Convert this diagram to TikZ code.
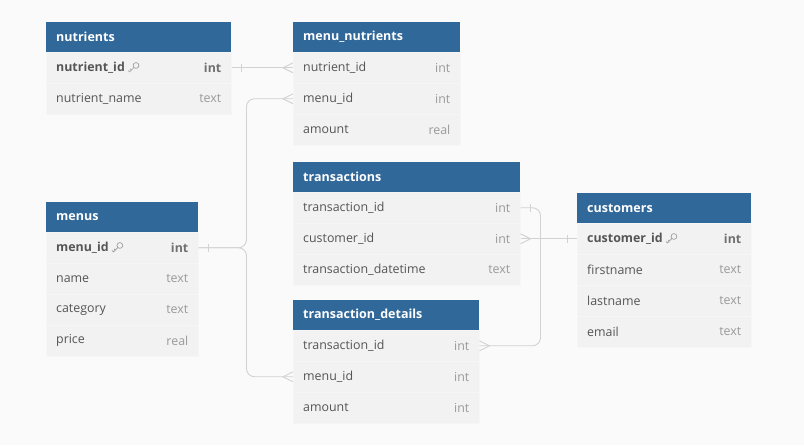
\documentclass[tikz,border=0pt]{standalone}
\usepackage{fontspec}
\setmainfont{Open Sans}
\usetikzlibrary{calc}

\definecolor{pagebg}{HTML}{FAFAFA}
\definecolor{headbg}{HTML}{31689A}
\definecolor{rowbg}{HTML}{F2F2F2}
\definecolor{rowline}{HTML}{F6F6F6}
\definecolor{fieldcol}{HTML}{555555}
\definecolor{typecol}{HTML}{9A9A9A}
\definecolor{keytype}{HTML}{707070}
\definecolor{linkcol}{HTML}{D2D2D2}

% small key glyph shown after primary-key field names
\newcommand{\pkkey}{\tikz[baseline=-3.6pt,x=1pt,y=1pt,line width=0.65pt,draw=typecol]{%
  \draw (2.4,2.4) circle (2.9);
  \draw (0.4,0.4) -- (-4.0,-4.0) -- (-5.4,-2.6);
  \draw (-2.2,-2.2) -- (-3.4,-1.0);}}

\tikzset{
  headbox/.style={fill=headbg, anchor=north west, minimum height=30pt,
    inner xsep=10pt, inner ysep=0pt, text width=#1-20pt, align=left,
    text=white, font=\fontsize{12.5}{14}\selectfont\bfseries},
  rowbox/.style={fill=rowbg, draw=rowline, line width=0.5pt, anchor=north west,
    minimum height=31pt, minimum width=#1, inner sep=0pt},
  fieldtext/.style={anchor=west, xshift=10pt, inner sep=0pt, text=fieldcol,
    font=\fontsize{12.4}{14}\selectfont},
  typetext/.style={anchor=east, xshift=-10pt, inner sep=0pt, text=typecol,
    font=\fontsize{12.4}{14}\selectfont},
  conn/.style={draw=linkcol, line width=0.9pt},
  tickeast/.pic={\draw[conn] (10,-4) -- (10,4);},
  tickwest/.pic={\draw[conn] (-10,-4) -- (-10,4);},
  crowwest/.pic={\draw[conn] (0,-5) -- (-10,0) -- (0,5);},
  croweast/.pic={\draw[conn] (0,-5) -- (10,0) -- (0,5);},
}

% header: name, x, top, width, title
\newcommand{\dbhead}[5]{\node[headbox=#4] (#1) at (#2,#3) {#5};}
% field row: name, x, top, width, field, type
\newcommand{\dbrow}[6]{%
  \node[rowbox=#4] (#1) at (#2,#3) {};
  \node[fieldtext] (#1-f) at (#1.west) {#5};
  \node[typetext] (#1-t) at (#1.east) {#6};}
\newcommand{\keyfield}[1]{\textbf{#1}\hspace{3pt}\pkkey}
\newcommand{\keytypetext}[1]{\textcolor{keytype}{\textbf{#1}}}

\begin{document}
\begin{tikzpicture}[x=1pt,y=-1pt]
\fill[pagebg] (0,0) rectangle (804,445);
\useasboundingbox (0,0) rectangle (804,445);

% nutrients
\dbhead{nut}{46}{22}{185}{nutrients}
\dbrow{nut-id}{46}{52}{185}{\keyfield{nutrient\_id}}{\keytypetext{int}}
\dbrow{nut-name}{46}{83}{185}{nutrient\_name}{text}

% menu_nutrients
\dbhead{mn}{293}{22}{167}{menu\_nutrients}
\dbrow{mn-nid}{293}{52}{167}{nutrient\_id}{int}
\dbrow{mn-mid}{293}{83}{167}{menu\_id}{int}
\dbrow{mn-amt}{293}{114}{167}{amount}{real}

% transactions
\dbhead{tr}{293}{162}{227}{transactions}
\dbrow{tr-tid}{293}{192}{227}{transaction\_id}{int}
\dbrow{tr-cid}{293}{223}{227}{customer\_id}{int}
\dbrow{tr-dt}{293}{254}{227}{transaction\_datetime}{text}

% customers
\dbhead{cu}{577}{193}{174}{customers}
\dbrow{cu-id}{577}{223}{174}{\keyfield{customer\_id}}{\keytypetext{int}}
\dbrow{cu-fn}{577}{254}{174}{firstname}{text}
\dbrow{cu-ln}{577}{285}{174}{lastname}{text}
\dbrow{cu-em}{577}{316}{174}{email}{text}

% menus
\dbhead{menu}{46}{202}{152}{menus}
\dbrow{menu-id}{46}{232}{152}{\keyfield{menu\_id}}{\keytypetext{int}}
\dbrow{menu-name}{46}{263}{152}{name}{text}
\dbrow{menu-cat}{46}{294}{152}{category}{text}
\dbrow{menu-price}{46}{325}{152}{price}{real}

% transaction_details
\dbhead{td}{293}{300}{186}{transaction\_details}
\dbrow{td-tid}{293}{330}{186}{transaction\_id}{int}
\dbrow{td-mid}{293}{361}{186}{menu\_id}{int}
\dbrow{td-amt}{293}{392}{186}{amount}{int}

% relationships
\draw[conn] (nut-id.east) -- (mn-nid.west);
\pic at (nut-id.east) {tickeast};
\pic at (mn-nid.west) {crowwest};

\draw[conn, rounded corners=8pt] (menu-id.east) -- ++(48,0) |- (mn-mid.west);
\draw[conn, rounded corners=8pt] (menu-id.east) -- ++(48,0) |- (td-mid.west);
\pic at (menu-id.east) {tickeast};
\pic at (mn-mid.west) {crowwest};
\pic at (td-mid.west) {crowwest};

\draw[conn] (tr-cid.east) -- (cu-id.west);
\pic at (tr-cid.east) {croweast};
\pic at (cu-id.west) {tickwest};

\draw[conn, rounded corners=8pt] (tr-tid.east) -- ++(20,0) |- (td-tid.east);
\pic at (tr-tid.east) {tickeast};
\pic at (td-tid.east) {croweast};
\end{tikzpicture}
\end{document}
